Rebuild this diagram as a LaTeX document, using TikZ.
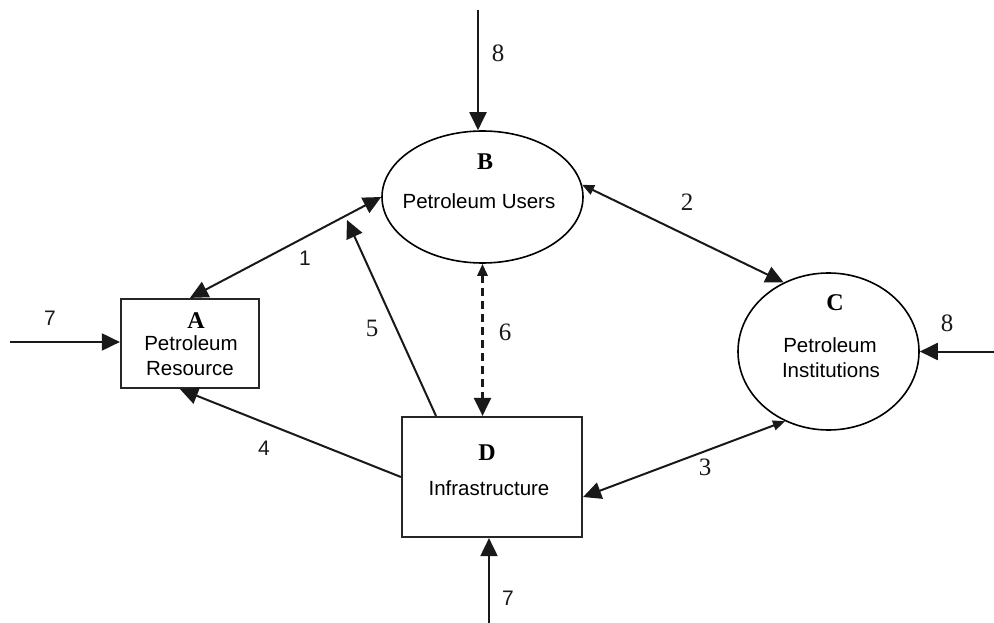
\documentclass[tikz,border=0pt]{standalone}
\usepackage{fontspec}
\setmainfont{Liberation Serif}
\setsansfont{Liberation Sans}
\usetikzlibrary{arrows.meta,shapes.geometric}
\tikzset{
  boxnode/.style={draw=black!85,line width=2.2pt,rectangle,inner sep=0pt},
  ovalnode/.style={draw=black,line width=1.6pt,ellipse,inner sep=0pt},
  txt/.style={font=\sffamily\fontsize{20.5}{22}\selectfont,anchor=base,inner sep=0pt,text=black},
  ttl/.style={font=\rmfamily\bfseries\fontsize{24}{26}\selectfont,anchor=base,inner sep=0pt,text=black},
  numr/.style={font=\rmfamily\fontsize{25}{27}\selectfont,inner sep=0pt,text=black!90},
  nums/.style={font=\sffamily\fontsize{21}{23}\selectfont,inner sep=0pt,text=black!90},
  conn/.style={line width=2pt,draw=black!90},
  bighead/.tip={Triangle[length=18pt,width=17pt]},
  smallhead/.tip={Triangle[length=12pt,width=10pt]},
}
\begin{document}
\begin{tikzpicture}[x=1pt,y=-1pt]
\useasboundingbox (0,0) rectangle (994,623);
% shapes
\node[boxnode,minimum width=138pt,minimum height=89pt] (A) at (190,343.5) {};
\node[ovalnode,minimum width=201pt,minimum height=132pt] (B) at (482.5,197) {};
\node[ovalnode,minimum width=181pt,minimum height=157pt] (C) at (828.5,351.5) {};
\node[boxnode,minimum width=180pt,minimum height=120pt] (D) at (492,477) {};
% texts
\node[ttl] (Atl) at (196,328) {A};
\node[txt] (At1) at (191,350) {Petroleum};
\node[txt] (At2) at (190,375) {Resource};
\node[ttl] (Btl) at (485,170) {B};
\node[txt] (Bt1) at (479,208) {Petroleum Users};
\node[ttl] (Ctl) at (835,310) {C};
\node[txt] (Ct1) at (830,352) {Petroleum};
\node[txt] (Ct2) at (831,377) {Institutions};
\node[ttl] (Dtl) at (487,460) {D};
\node[txt] (Dt1) at (489,495) {Infrastructure};
% free ends
\coordinate (t8) at (478,10);
\coordinate (b7) at (489,623);
\coordinate (l7) at (10,342);
\coordinate (r8) at (994,351.5);
\coordinate (e5) at (347,220);
% connectors
\draw[conn,-bighead] (t8) -- (t8 |- B.north);
\draw[conn,-bighead] (b7) -- (b7 |- D.south);
\draw[conn,-bighead] (l7) -- (l7 -| A.west);
\draw[conn,-bighead] (r8) -- (C.east);
\draw[conn,bighead-bighead] (A.north) -- (B.west);
\draw[conn,smallhead-bighead] (B.7) -- (C.123);
\draw[conn,bighead-smallhead] ([yshift=-20pt]D.east) -- (C.238);
\draw[conn,-bighead] (D.west) -- ([xshift=-10pt]A.south);
\draw[conn,-bighead] ([xshift=-56pt]D.north) -- (e5);
\draw[conn,line width=2.8pt,dash pattern=on 8pt off 5pt,smallhead-bighead] (B.south) -- (B.south |- D.north);
% labels
\node[numr] (n8a) at (498,53) {8};
\node[nums] (n7a) at (50,318) {7};
\node[numr] (n8b) at (947,323) {8};
\node[nums] (n7b) at (508,598) {7};
\node[nums] (n1) at (305,258) {1};
\node[numr] (n2) at (687,202) {2};
\node[numr] (n3) at (705,467) {3};
\node[nums] (n4) at (264,448) {4};
\node[numr] (n5) at (372,328) {5};
\node[numr] (n6) at (505,332) {6};
\end{tikzpicture}
\end{document}
